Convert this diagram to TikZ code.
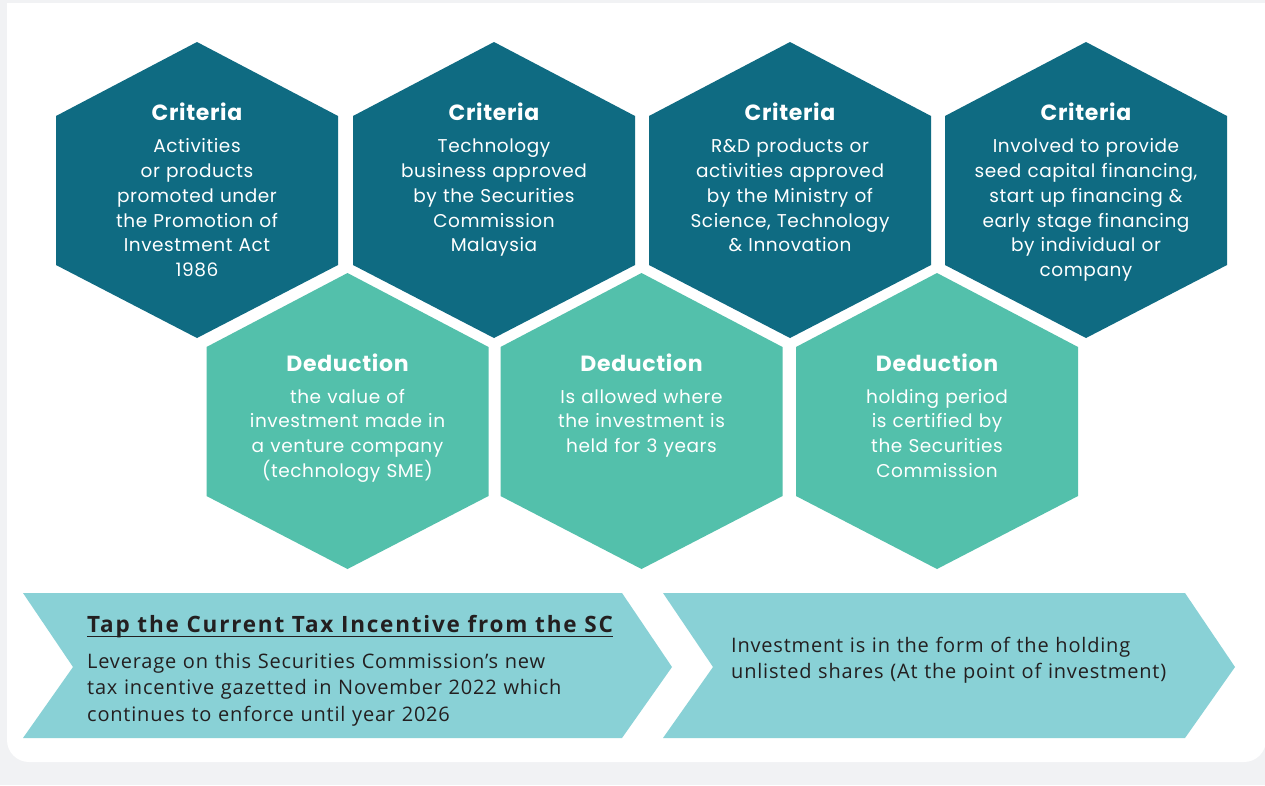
\documentclass[tikz,border=0pt]{standalone}
\usepackage{fontspec}
\setmainfont{Open Sans}[LetterSpace=4]
\newfontfamily\hexfont{Poppins}[LetterSpace=3]

\definecolor{pagegray}{HTML}{F1F2F4}
\definecolor{darkteal}{HTML}{0F6B82}
\definecolor{mint}{HTML}{53C0AB}
\definecolor{paleteal}{HTML}{89D1D6}
\definecolor{ink}{HTML}{231F20}

% stretched hexagon around (x,y), pixel units, y down
\newcommand{\hexat}[3]{\fill[#3] (#1,#2-148) -- (#1+141,#2-74) -- (#1+141,#2+75) -- (#1,#2+148) -- (#1-141,#2+75) -- (#1-141,#2-74) -- cycle;}

\tikzset{
  critbox/.style={fill=darkteal},
  dedbox/.style={fill=mint},
  chevbox/.style={fill=paleteal},
  hextitle/.style={text=white,anchor=base,inner sep=0pt,font=\hexfont\bfseries\fontsize{22}{25}\selectfont},
  hexbody/.style={text=white,anchor=base,inner sep=0pt,text width=280pt,align=center,font=\hexfont\fontsize{18.5}{24.8}\selectfont},
  chevtitle/.style={text=ink,anchor=base west,inner sep=0pt,font=\bfseries\fontsize{22.5}{26}\selectfont\addfontfeature{LetterSpace=8}},
  chevtext/.style={text=ink,anchor=base west,inner sep=0pt,text width=540pt,align=left,font=\fontsize{20}{26.5}\selectfont},
}

\begin{document}
\begin{tikzpicture}[x=1pt,y=-1pt]
  \useasboundingbox (0,0) rectangle (1265,785);
  \fill[pagegray] (0,0) rectangle (1265,785);
  \fill[white] (7,3) [rounded corners=22pt] -- (7,762) -- (1266,762) [sharp corners] -- (1266,3) -- cycle;

  % criteria row
  \hexat{197}{190}{critbox}
  \hexat{494}{190}{critbox}
  \hexat{790}{190}{critbox}
  \hexat{1086}{190}{critbox}

  % deduction row
  \hexat{347.5}{421}{dedbox}
  \hexat{641.5}{421}{dedbox}
  \hexat{937}{421}{dedbox}

  \node[hextitle] (crit1) at (197,120.7) {Criteria};
  \node[hexbody] (crit1txt) at (197,152.7) {Activities\\or products\\promoted under\\the Promotion of\\Investment Act\\1986};
  \node[hextitle] (crit2) at (494,120.7) {Criteria};
  \node[hexbody] (crit2txt) at (494,152.7) {Technology\\business approved\\by the Securities\\Commission\\Malaysia};
  \node[hextitle] (crit3) at (790,120.7) {Criteria};
  \node[hexbody] (crit3txt) at (790,152.7) {R\&D products or\\activities approved\\by the Ministry of\\Science, Technology\\\& Innovation};
  \node[hextitle] (crit4) at (1086,120.7) {Criteria};
  \node[hexbody] (crit4txt) at (1086,152.7) {Involved to provide\\seed capital financing,\\start up financing \&\\early stage financing\\by individual or\\company};

  \node[hextitle] (ded1) at (347.5,371.7) {Deduction};
  \node[hexbody] (ded1txt) at (347.5,403) {the value of\\investment made in\\a venture company\\(technology SME)};
  \node[hextitle] (ded2) at (641.5,371.7) {Deduction};
  \node[hexbody] (ded2txt) at (641.5,403) {Is allowed where\\the investment is\\held for 3 years};
  \node[hextitle] (ded3) at (937,371.7) {Deduction};
  \node[hexbody] (ded3txt) at (937,403) {holding period\\is certified by\\the Securities\\Commission};

  % chevrons
  \fill[chevbox] (23,593) -- (622,593) -- (672,667) -- (622,738) -- (23,738) -- (73,667) -- cycle;
  \fill[chevbox] (663,593) -- (1185,593) -- (1235,667) -- (1185,738) -- (663,738) -- (713,667) -- cycle;

  \node[chevtitle] (tap) at (87,632) {Tap the Current Tax Incentive from the SC};
  \draw[ink,line width=1.5pt] ([yshift=-4.5pt]tap.base west) -- ([yshift=-4.5pt]tap.base east);
  \node[chevtext] (taptxt) at (87,668) {Leverage on this Securities Commission’s new\\tax incentive gazetted in November 2022 which\\continues to enforce until year 2026};
  \node[chevtext] (shares) at (731,652) {Investment is in the form of the holding\\unlisted shares (At the point of investment)};
\end{tikzpicture}
\end{document}
